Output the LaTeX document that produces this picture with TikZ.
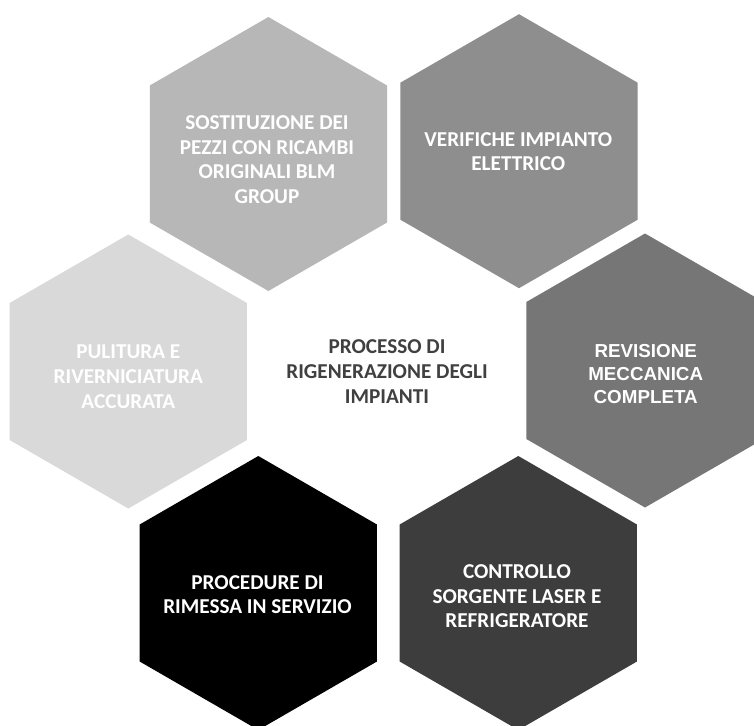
\documentclass[tikz,border=0pt]{standalone}
\usepackage{fontspec}
\setmainfont{Carlito}
\newfontfamily\arialfont{Liberation Sans}
\definecolor{hexA}{HTML}{B7B7B7}
\definecolor{hexB}{HTML}{8E8E8E}
\definecolor{hexC}{HTML}{D9D9D9}
\definecolor{hexD}{HTML}{767676}
\definecolor{hexE}{HTML}{000000}
\definecolor{hexF}{HTML}{3D3D3D}
\definecolor{midtext}{HTML}{404040}
\newcommand\hexcell[3]{\fill[#3,shift={(#1,#2)}] (90:137) -- (150:137) -- (210:137) -- (270:137) -- (330:137) -- (30:137) -- cycle;}
\begin{document}
\begin{tikzpicture}[x=1pt,y=-1pt,
  lbl/.style={align=center,inner sep=0pt,text=white,font=\bfseries\fontsize{21.2}{24.7}\selectfont},
  lblarial/.style={align=center,inner sep=0pt,text=white,font=\arialfont\bfseries\fontsize{18.8}{23}\selectfont},
  midlbl/.style={align=center,inner sep=0pt,text=midtext,font=\bfseries\fontsize{21.2}{24.7}\selectfont}]
\clip (0,0) rectangle (754,725);
\fill[white] (0,0) rectangle (754,725);
\hexcell{268.4}{154}{hexA}
\hexcell{519}{151.2}{hexB}
\hexcell{128.3}{371.5}{hexC}
\hexcell{645}{370.5}{hexD}
\hexcell{258.3}{593}{hexE}
\hexcell{518.3}{593}{hexF}
\node[lbl] (sost) at (267,159.5) {SOSTITUZIONE DEI\\PEZZI CON RICAMBI\\ORIGINALI BLM\\GROUP};
\node[lbl] (verif) at (518.3,151.7) {VERIFICHE IMPIANTO\\ELETTRICO};
\node[lbl] (pulit) at (128.3,376.7) {PULITURA E\\RIVERNICIATURA\\ACCURATA};
\node[lblarial] (revis) at (645.7,374) {REVISIONE\\MECCANICA\\COMPLETA};
\node[lbl] (proc) at (257.5,594.7) {PROCEDURE DI\\RIMESSA IN SERVIZIO};
\node[lbl] (contr) at (517,596.3) {CONTROLLO\\SORGENTE LASER E\\REFRIGERATORE};
\node[midlbl] (centro) at (387,371.5) {PROCESSO DI\\RIGENERAZIONE DEGLI\\IMPIANTI};
\end{tikzpicture}
\end{document}
